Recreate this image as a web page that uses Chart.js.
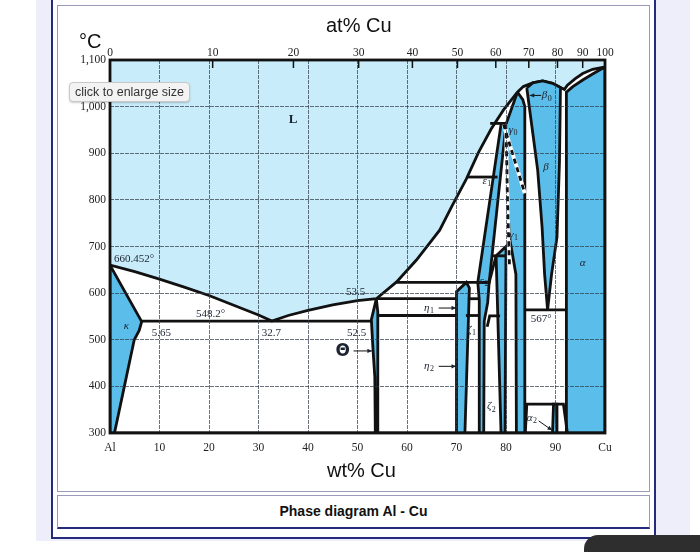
<!DOCTYPE html>
<html>
<head>
<meta charset="utf-8">
<title>Phase diagram Al - Cu</title>
<script src="https://cdn.jsdelivr.net/npm/chart.js@4.4.1/dist/chart.umd.min.js"></script>
<style>
  html, body { margin: 0; padding: 0; background: #fff; }
  body { width: 700px; height: 552px; position: relative; overflow: hidden; font-family: Arial, "Liberation Sans", sans-serif; }
  .lav { position: absolute; left: 36px; top: 0; width: 654px; height: 541px; background: #eeeefa; }
  .frame { position: absolute; left: 51px; top: -2px; width: 601px; height: 537px; border: 2px solid #262a7c; background: #fff; }
  .panel { position: absolute; left: 57px; top: 5px; width: 591px; height: 485px; border: 1px solid #9a9ab8; }
  .panel2 { position: absolute; left: 57px; top: 495px; width: 591px; height: 31px; border: 1px solid #9a9ab8; border-bottom: 2px solid #262a7c;
            font-weight: bold; font-size: 14px; text-align: center; line-height: 31px; color: #111; }
  #wrap { position: absolute; left: 0; top: 0; width: 700px; height: 552px; }
  .axt { position: absolute; font-size: 20px; color: #111; white-space: nowrap; }
  .tip { position: absolute; left: 69px; top: 82px; padding: 2px 5px; background: #f3f3f3; border: 1px solid #c8c8c8; border-radius: 4px;
         font-size: 12.5px; color: #333; box-shadow: 0 1px 2px rgba(0,0,0,0.2); }
  .pill { position: absolute; left: 584px; top: 535px; width: 132px; height: 34px; border-radius: 14px; background: #2e2e2e; }
</style>
</head>
<body>
<div class="lav"></div>
<div class="frame"></div>
<div class="panel"></div>
<div class="panel2">Phase diagram Al - Cu</div>
<div id="wrap"><canvas id="c" width="700" height="552"></canvas></div>
<div class="axt" style="left:326px;top:14px;">at% Cu</div>
<div class="axt" style="left:79px;top:30px;">°C</div>
<div class="axt" style="left:327px;top:459px;">wt% Cu</div>
<div class="tip">click to enlarge size</div>
<div class="pill"></div>
<script>
// axes
const atTicks = [0, 10, 20, 30, 40, 50, 60, 70, 80, 90, 100];
const tempTicks = [300, 400, 500, 600, 700, 800, 900, 1000, 1100];

// liquidus, Al side to Cu side (wt% Cu, °C)
const liquidus = [[0, 660], [5, 646], [10, 630], [15, 613], [20, 595], [25, 574], [30, 553], [32.7, 540],
  [36, 552], [40, 563], [45, 575], [50, 584], [53.8, 588], [57.9, 624], [61.9, 671], [66.6, 735],
  [69, 785], [72, 845], [74.5, 903], [77, 952], [79.5, 993], [82.3, 1031]];
const betaDome = [[82.3, 1031], [83.5, 1043], [85.4, 1051], [87.4, 1055], [89.4, 1050], [91.2, 1040], [91.8, 1037]];
const alphaLiquidus = [[91.8, 1037], [92.4, 1046], [94, 1060], [95.5, 1071], [97.5, 1080], [100, 1085]];

// single phase fields
const kappaPhase = [[0, 660], [6.4, 539], [5.9, 520], [4.9, 500], [3.9, 450], [2.9, 400], [1.9, 350], [0.9, 300], [0, 300]];
const thetaPhase = [[53.8, 588], [52.8, 543], [53.1, 485], [53.5, 420], [53.6, 300], [54.1, 300], [54.1, 560]];
const etaPhase = [[70.0, 300], [70.0, 603], [72.0, 623], [72.6, 611], [71.7, 300]];
const epsilonBand = [[74.3, 623], [79.0, 962], [80.0, 962], [76.6, 623]];
const zetaPhase = [[74.3, 623], [74.6, 585], [74.6, 300], [75.5, 300], [75.6, 540], [76.3, 580], [76.6, 623]];
const deltaPhase = [[78.0, 680], [79.0, 300], [79.8, 300], [80.0, 700]];
const gammaPhase = [[82.3, 1031], [83.4, 1015], [83.8, 1000], [83.8, 300], [82.1, 300], [82.0, 640], [80.7, 720], [80.3, 800], [80.0, 962]];
const betaPhase = [[84.2, 1040], [85.4, 1051], [87.4, 1055], [89.4, 1050], [91.0, 1041], [90.8, 880], [90.3, 720], [89.2, 640],
  [88.4, 564], [87.8, 640], [87.3, 740], [86.4, 864], [85.2, 960]];
const alphaPhase = [[92.2, 300], [92.2, 1031], [93.5, 1043], [95.5, 1057], [97.5, 1070], [100, 1085], [100, 300]];
const alpha2Phase = [[89.4, 300], [89.6, 362], [90.2, 362], [90.3, 300]];

// isotherms: [from wt%, to wt%, °C]
const isotherms = [[6.4, 52.8, 540], [57.9, 74.3, 623], [54.1, 70.0, 588], [72.3, 74.6, 588], [54.1, 70.0, 552],
  [71.9, 74.6, 552], [72.2, 78.3, 849], [76.8, 80.0, 964], [77.2, 80.0, 680], [83.8, 92.2, 564]];
const otherLines = [
  [[78.0, 680], [76.6, 623]],
  [[76.2, 528], [76.7, 551], [78.8, 551]],
  [[83.9, 300], [84.2, 362], [91.6, 362], [92.4, 300]]
];
const dashedLines = [
  [[80.0, 962], [80.3, 800], [80.7, 660]],
  [[79.5, 962], [83.8, 814]]
];

// annotations
const phaseLabels = [
  ['L', '', 37, 972, 'bold 13px "Liberation Serif"', 'center'],
  ['660.452°', '', 0.8, 672, '11px "Liberation Serif"', 'left'],
  ['548.2°', '', 20.3, 556, '11px "Liberation Serif"', 'center'],
  ['5.65', '', 10.4, 515, '11px "Liberation Serif"', 'center'],
  ['32.7', '', 32.6, 515, '11px "Liberation Serif"', 'center'],
  ['53.5', '', 49.6, 602, '11px "Liberation Serif"', 'center'],
  ['52.5', '', 49.8, 515, '11px "Liberation Serif"', 'center'],
  ['567°', '', 87.1, 544, '11px "Liberation Serif"', 'center'],
  ['Θ', '', 47.0, 475, 'bold 17px "DejaVu Sans"', 'center'],
  ['κ', '', 3.3, 530, 'italic 11px "Liberation Serif"', 'center'],
  ['η', '1', 64.6, 568, 'italic 11px "Liberation Serif"', 'center'],
  ['η', '2', 64.6, 443, 'italic 11px "Liberation Serif"', 'center'],
  ['ζ', '1', 73.2, 521, 'italic 11px "Liberation Serif"', 'center'],
  ['ζ', '2', 77.2, 357, 'italic 11px "Liberation Serif"', 'center'],
  ['ε', '2', 75.7, 626, 'italic 11px "Liberation Serif"', 'center'],
  ['ε', '1', 76.3, 840, 'italic 11px "Liberation Serif"', 'center'],
  ['γ', '0', 81.6, 950, 'italic 11px "Liberation Serif"', 'center'],
  ['γ', '1', 81.7, 725, 'italic 11px "Liberation Serif"', 'center'],
  ['β', '0', 88.4, 1024, 'italic 11px "Liberation Serif"', 'center'],
  ['β', '', 88.1, 871, 'italic 11px "Liberation Serif"', 'center'],
  ['α', '', 95.5, 664, 'italic 11px "Liberation Serif"', 'center'],
  ['α', '2', 85.4, 332, 'italic 11px "Liberation Serif"', 'center']
];
const arrows = [
  [[66.4, 568], [69.9, 568]],
  [[66.4, 443], [69.9, 443]],
  [[49.2, 476], [52.9, 476]],
  [[87.1, 1024], [84.8, 1024]],
  [[86.6, 326], [89.3, 306]]
];

const liquidColor = '#c8ecf9';
const solidColor = '#5bbde9';
const lineW = 2.8;
const atToWt = a => 100 * a * 63.546 / (a * 63.546 + (100 - a) * 26.982);
const pts = arr => arr.map(([x, y]) => ({ x, y }));

function region(points, color, order) {
  const d = pts(points);
  d.push(d[0]);
  return { data: d, showLine: true, fill: 'shape', backgroundColor: color, borderColor: '#111',
    borderWidth: lineW, pointRadius: 0, order };
}
function line(points, opts) {
  return Object.assign({ data: pts(points), showLine: true, fill: false, borderColor: '#111',
    borderWidth: lineW, pointRadius: 0, order: 10 }, opts || {});
}

const basePhase = liquidus.concat(betaDome.slice(1), alphaLiquidus.slice(1), [[100, 300], [0, 300]]);

const datasets = [
  region(basePhase, '#ffffff', 100),
  region(kappaPhase, solidColor, 50),
  region(thetaPhase, solidColor, 50),
  region(etaPhase, solidColor, 50),
  region(epsilonBand, solidColor, 50),
  region(zetaPhase, solidColor, 50),
  region(deltaPhase, solidColor, 50),
  region(gammaPhase, solidColor, 50),
  region(betaPhase, solidColor, 50),
  region(alphaPhase, solidColor, 50),
  region(alpha2Phase, solidColor, 50)
];
isotherms.forEach(([a, b, t]) => datasets.push(line([[a, t], [b, t]])));
otherLines.forEach(p => datasets.push(line(p)));
dashedLines.forEach(p => {
  datasets.push(line(p, { borderColor: '#ffffff', borderWidth: 3.8, order: 6 }));
  datasets.push(line(p, { borderDash: [5, 4], borderWidth: 2.8, order: 5 }));
});

const decor = {
  id: 'decor',
  beforeDatasetsDraw(chart) {
    const { ctx, chartArea: a } = chart;
    ctx.save();
    ctx.fillStyle = liquidColor;
    ctx.fillRect(a.left, a.top, a.width, a.height);
    ctx.restore();
  },
  afterDraw(chart) {
    const { ctx, chartArea: a, scales } = chart;
    const X = v => scales.x.getPixelForValue(v);
    const Y = v => scales.y.getPixelForValue(v);
    ctx.save();
    // top at% tick marks
    ctx.strokeStyle = '#111';
    ctx.lineWidth = 1.5;
    atTicks.slice(1, -1).forEach(t => {
      const px = X(atToWt(t));
      ctx.beginPath(); ctx.moveTo(px, a.top); ctx.lineTo(px, a.top + 8); ctx.stroke();
    });
    // plot frame
    ctx.lineWidth = 2.8;
    ctx.strokeRect(a.left, a.top, a.width, a.height);
    // labels
    ctx.fillStyle = '#1b2230';
    ctx.textBaseline = 'middle';
    phaseLabels.forEach(([txt, sub, x, y, font, align]) => {
      ctx.font = font;
      ctx.textAlign = align;
      const w = ctx.measureText(txt).width;
      let px = X(x);
      if (align === 'center' && sub) px -= 3;
      ctx.fillText(txt, px, Y(y));
      if (sub) {
        ctx.font = '8px "Liberation Serif"';
        ctx.textAlign = 'left';
        const sx = align === 'center' ? px + w / 2 : px + w;
        ctx.fillText(sub, sx + 0.5, Y(y) + 3);
      }
    });
    // arrows
    ctx.lineWidth = 1;
    arrows.forEach(([p, q]) => {
      const x1 = X(p[0]), y1 = Y(p[1]), x2 = X(q[0]), y2 = Y(q[1]);
      const ang = Math.atan2(y2 - y1, x2 - x1);
      ctx.beginPath(); ctx.moveTo(x1, y1); ctx.lineTo(x2, y2); ctx.stroke();
      ctx.beginPath();
      ctx.moveTo(x2, y2);
      ctx.lineTo(x2 - 5 * Math.cos(ang - 0.45), y2 - 5 * Math.sin(ang - 0.45));
      ctx.lineTo(x2 - 5 * Math.cos(ang + 0.45), y2 - 5 * Math.sin(ang + 0.45));
      ctx.closePath(); ctx.fill();
    });
    ctx.restore();
  }
};

const tickFont = { family: '"Liberation Serif", "Times New Roman", serif', size: 11.5 };
const gridStyle = { color: 'rgba(45,55,68,0.7)', lineWidth: 1, drawTicks: false, z: 1 };
const gridBorder = { display: false, dash: [4, 1] };

new Chart(document.getElementById('c'), {
  type: 'scatter',
  data: { datasets },
  options: {
    responsive: false,
    animation: false,
    events: [],
    layout: { padding: { left: 70, right: 95, top: 38, bottom: 97 } },
    plugins: { legend: { display: false }, tooltip: { enabled: false } },
    scales: {
      x: {
        type: 'linear', min: 0, max: 100,
        grid: gridStyle, border: gridBorder,
        ticks: { stepSize: 10, color: '#222', font: tickFont, padding: 8, maxRotation: 0,
          callback: v => v === 0 ? 'Al' : v === 100 ? 'Cu' : v },
        afterFit: s => { s.height = 22; }
      },
      x2: {
        type: 'linear', position: 'top', min: 0, max: 100,
        grid: { display: false, drawTicks: false }, border: { display: false },
        afterBuildTicks: s => { s.ticks = atTicks.map(t => ({ value: atToWt(t) })); },
        ticks: { color: '#222', font: tickFont, padding: 0, autoSkip: false, maxRotation: 0,
          callback: (v, i) => atTicks[i] },
        afterFit: s => { s.height = 22; }
      },
      y: {
        type: 'linear', min: 300, max: 1100,
        grid: gridStyle, border: gridBorder,
        afterBuildTicks: s => { s.ticks = tempTicks.map(t => ({ value: t })); },
        ticks: { color: '#222', font: tickFont, padding: 4,
          callback: v => v >= 1000 ? v.toLocaleString('en-US') : v },
        afterFit: s => { s.width = 40; }
      }
    }
  },
  plugins: [decor]
});
</script>
</body>
</html>
